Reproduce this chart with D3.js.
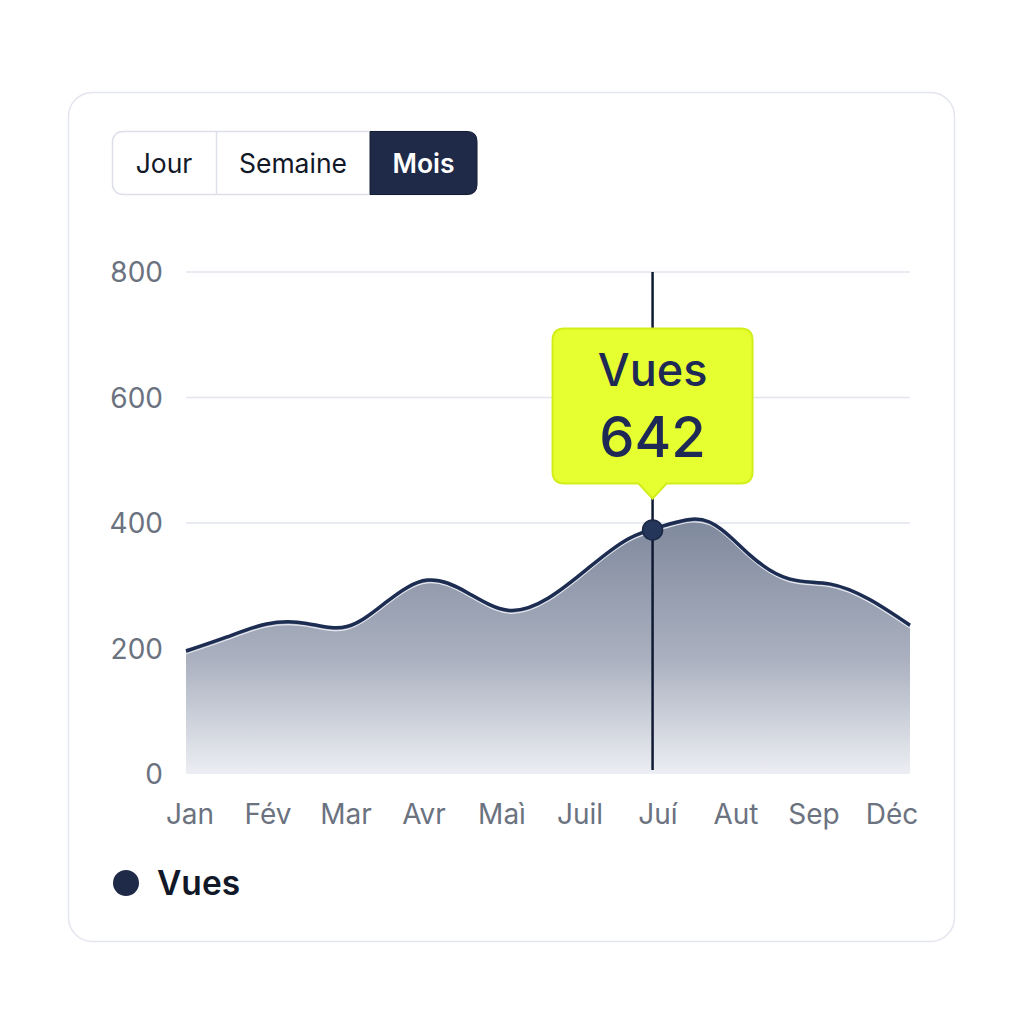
<!DOCTYPE html>
<html>
<head>
<meta charset="utf-8">
<script src="https://cdn.jsdelivr.net/npm/d3@7"></script>
<style>
  html, body { margin: 0; padding: 0; background: #fff; }
  svg { display: block; font-family: Inter, 'Noto Sans', sans-serif; }
</style>
</head>
<body>
<div id="chart"></div>
<script>
// data
var periods = ['Jour', 'Semaine', 'Mois'];
var activePeriod = 'Mois';
var months = ['Jan', 'Fév', 'Mar', 'Avr', 'Maì', 'Juil', 'Juí', 'Aut', 'Sep', 'Déc'];
var yTicks = [0, 200, 400, 600, 800];
// views sampled every half step along the curve
var views = [196, 218, 239, 240, 235, 275, 309, 289, 261, 280, 328, 375, 398, 402, 350, 311, 303, 278, 237];
var seriesName = 'Vues';
var hoverStep = 11.6;
var hoverValue = 389;
var tooltipValue = 642;

(function() {
  'use strict';

  var W = 1024, H = 1024;
  var svg = d3.select('#chart').append('svg').attr('width', W).attr('height', H);

  var navy = '#1f2a48';
  var grey = '#6b7280';

  // card
  svg.append('rect')
    .attr('x', 68.5).attr('y', 92.5)
    .attr('width', 886).attr('height', 849)
    .attr('rx', 24)
    .attr('fill', '#fff')
    .attr('stroke', '#e3e5ef')
    .attr('stroke-width', 1.5);

  // segmented control
  var segX = d3.scaleOrdinal().domain(periods).range([112, 216, 370]);
  var segW = d3.scaleOrdinal().domain(periods).range([104, 154, 107]);
  var segTop = 131.5, segH = 63;

  var seg = svg.append('g');
  seg.append('rect')
    .attr('x', 112.5).attr('y', segTop)
    .attr('width', 364).attr('height', segH)
    .attr('rx', 10)
    .attr('fill', '#fff')
    .attr('stroke', '#dde0ea')
    .attr('stroke-width', 1.5);

  // active segment: square left corners, round right ones
  var ax = segX(activePeriod), aw = segW(activePeriod), r = 10;
  seg.append('path')
    .attr('d', 'M' + ax + ',' + segTop +
      'H' + (ax + aw - r) +
      'Q' + (ax + aw) + ',' + segTop + ' ' + (ax + aw) + ',' + (segTop + r) +
      'V' + (segTop + segH - r) +
      'Q' + (ax + aw) + ',' + (segTop + segH) + ' ' + (ax + aw - r) + ',' + (segTop + segH) +
      'H' + ax + 'Z')
    .attr('fill', navy)
    .attr('stroke', '#141c33')
    .attr('stroke-width', 1);

  seg.append('line')
    .attr('x1', 216.5).attr('x2', 216.5)
    .attr('y1', segTop).attr('y2', segTop + segH)
    .attr('stroke', '#dde0ea').attr('stroke-width', 1.5);

  seg.selectAll('text.seg')
    .data(periods)
    .enter()
    .append('text')
    .attr('class', 'seg')
    .attr('x', function(d) { return segX(d) + segW(d) / 2; })
    .attr('y', segTop + segH / 2 + 9.5)
    .attr('text-anchor', 'middle')
    .attr('font-size', 26.5)
    .attr('font-weight', function(d) { return d == activePeriod ? 600 : 400; })
    .attr('fill', function(d) { return d == activePeriod ? '#fff' : '#111827'; })
    .text(function(d) { return d; });

  // scales
  var left = 186, right = 910;
  var y = d3.scaleLinear().domain([0, 800]).range([774, 272]);
  var xs = d3.scaleLinear().domain([0, views.length - 1]).range([left, right]);
  var xl = d3.scalePoint().domain(months).range([190, 892]);

  // grid
  svg.append('g').selectAll('line')
    .data(yTicks.filter(function(d) { return d > 0; }))
    .enter()
    .append('line')
    .attr('x1', left).attr('x2', right)
    .attr('y1', function(d) { return y(d); })
    .attr('y2', function(d) { return y(d); })
    .attr('stroke', '#e2e4ee')
    .attr('stroke-width', 1.5);

  svg.append('g').selectAll('text')
    .data(yTicks)
    .enter()
    .append('text')
    .attr('x', 163)
    .attr('y', function(d) { return y(d) + 10; })
    .attr('text-anchor', 'end')
    .attr('font-size', 28)
    .attr('fill', grey)
    .text(function(d) { return d; });

  // gradient
  var defs = svg.append('defs');
  var grad = defs.append('linearGradient')
    .attr('id', 'areaGrad')
    .attr('gradientUnits', 'userSpaceOnUse')
    .attr('x1', 0).attr('x2', 0)
    .attr('y1', y(410)).attr('y2', y(0));
  grad.append('stop').attr('offset', '0%').attr('stop-color', '#7e889c');
  grad.append('stop').attr('offset', '55%').attr('stop-color', '#aab0bf');
  grad.append('stop').attr('offset', '100%').attr('stop-color', '#eceef3');

  var curve = d3.curveNatural;
  var area = d3.area()
    .x(function(d, i) { return xs(i); })
    .y0(y(0))
    .y1(function(d) { return y(d); })
    .curve(curve);
  var line = d3.line()
    .x(function(d, i) { return xs(i); })
    .y(function(d) { return y(d); })
    .curve(curve);

  svg.append('path')
    .datum(views)
    .attr('d', area)
    .attr('fill', 'url(#areaGrad)');

  // thin highlight under the line
  svg.append('path')
    .datum(views)
    .attr('d', line)
    .attr('transform', 'translate(0,2.8)')
    .attr('fill', 'none')
    .attr('stroke', '#e4e7ee')
    .attr('stroke-width', 1.2);

  svg.append('path')
    .datum(views)
    .attr('d', line)
    .attr('fill', 'none')
    .attr('stroke', '#1d2d52')
    .attr('stroke-width', 3.5);

  // x labels
  svg.append('g').selectAll('text')
    .data(months)
    .enter()
    .append('text')
    .attr('x', function(d) { return xl(d); })
    .attr('y', 824)
    .attr('text-anchor', 'middle')
    .attr('font-size', 28)
    .attr('fill', grey)
    .text(function(d) { return d; });

  // hover marker
  var hx = xs(hoverStep);
  svg.append('line')
    .attr('x1', hx).attr('x2', hx)
    .attr('y1', y(800)).attr('y2', y(0) - 4)
    .attr('stroke', '#0f1a33')
    .attr('stroke-width', 2.5);

  svg.append('circle')
    .attr('cx', hx)
    .attr('cy', y(hoverValue))
    .attr('r', 10)
    .attr('fill', '#243659')
    .attr('stroke', '#1a2745')
    .attr('stroke-width', 1.5);

  // tooltip
  var tipW = 200, tipH = 155, tipY = 328.5;
  var tip = svg.append('g').attr('transform', 'translate(' + (hx - tipW / 2) + ',' + tipY + ')');
  tip.append('path')
    .attr('d', 'M12,0H' + (tipW - 12) +
      'Q' + tipW + ',0 ' + tipW + ',12' +
      'V' + (tipH - 12) +
      'Q' + tipW + ',' + tipH + ' ' + (tipW - 12) + ',' + tipH +
      'H' + (tipW / 2 + 14) +
      'L' + (tipW / 2) + ',' + (tipH + 15) +
      'L' + (tipW / 2 - 14) + ',' + tipH +
      'H12Q0,' + tipH + ' 0,' + (tipH - 12) +
      'V12Q0,0 12,0Z')
    .attr('fill', '#e6ff30')
    .attr('stroke', '#d2ee1a')
    .attr('stroke-width', 2);

  tip.append('text')
    .attr('x', tipW / 2)
    .attr('y', 57)
    .attr('text-anchor', 'middle')
    .attr('font-size', 45)
    .attr('font-weight', 500)
    .attr('fill', '#1e2a55')
    .text(seriesName);

  tip.append('text')
    .attr('x', tipW / 2)
    .attr('y', 128)
    .attr('text-anchor', 'middle')
    .attr('font-size', 56)
    .attr('font-weight', 500)
    .attr('fill', '#1e2a55')
    .text(tooltipValue);

  // legend
  var legend = svg.append('g');
  legend.append('circle')
    .attr('cx', 126).attr('cy', 883)
    .attr('r', 13)
    .attr('fill', navy);
  legend.append('text')
    .attr('x', 157).attr('y', 895)
    .attr('font-size', 33.5)
    .attr('font-weight', 600)
    .attr('fill', '#111827')
    .text(seriesName);
})();
</script>
</body>
</html>
